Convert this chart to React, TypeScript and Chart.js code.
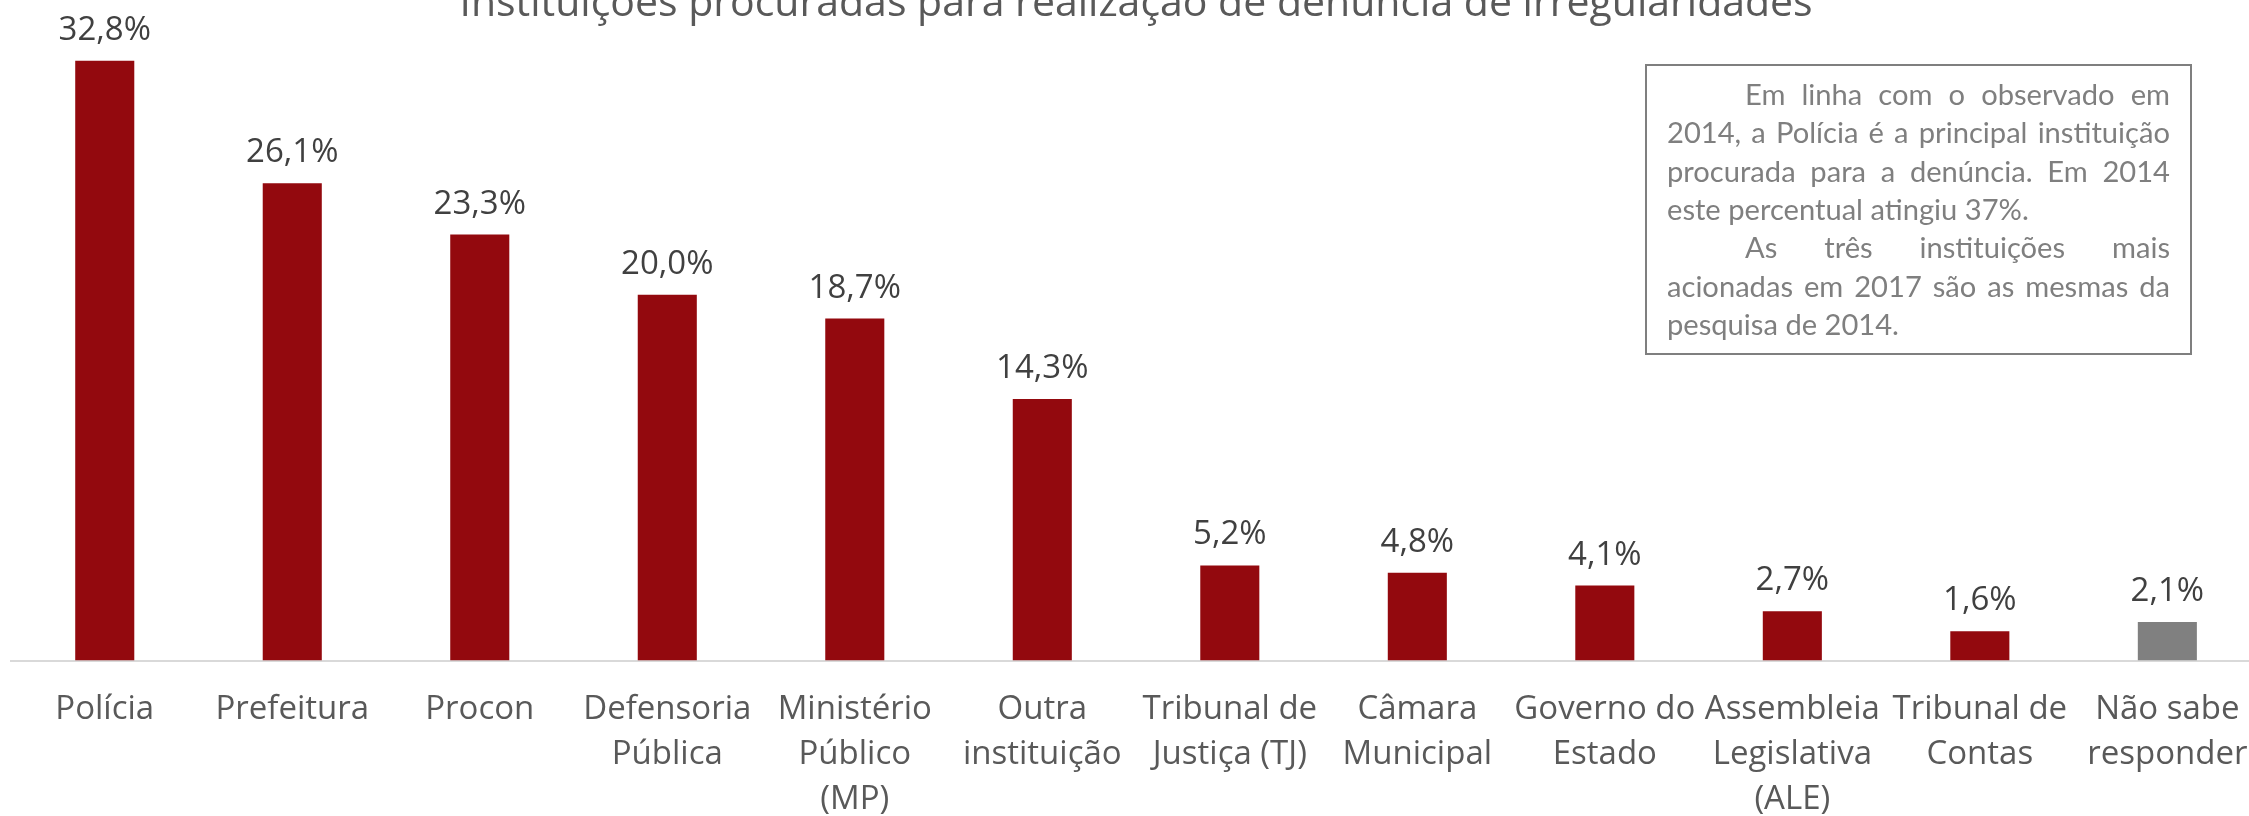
import React, { useEffect, useRef } from 'react';
import { Chart, registerables } from 'chart.js';

Chart.register(...registerables);

const categories: string[][] = [
  ['Polícia'],
  ['Prefeitura'],
  ['Procon'],
  ['Defensoria', 'Pública'],
  ['Ministério', 'Público', '(MP)'],
  ['Outra', 'instituição'],
  ['Tribunal de', 'Justiça (TJ)'],
  ['Câmara', 'Municipal'],
  ['Governo do', 'Estado'],
  ['Assembleia', 'Legislativa', '(ALE)'],
  ['Tribunal de', 'Contas'],
  ['Não sabe', 'responder'],
];

const values: number[] = [32.8, 26.1, 23.3, 20.0, 18.7, 14.3, 5.2, 4.8, 4.1, 2.7, 1.6, 2.1];

const RED = '#93090e';
const GRAY = '#808080';
const barColors: string[] = [RED, RED, RED, RED, RED, RED, RED, RED, RED, RED, RED, GRAY];

const titleText = 'Instituições procuradas para realização de denúncia de irregularidades';

type NoteLine = { text: string; indent?: boolean; justify: boolean };
const noteLines: NoteLine[] = [
  { text: 'Em linha com o observado em', indent: true, justify: true },
  { text: '2014, a Polícia é a principal instituição', justify: true },
  { text: 'procurada para a denúncia. Em 2014', justify: true },
  { text: 'este percentual atingiu 37%.', justify: false },
  { text: 'As três instituições mais', indent: true, justify: true },
  { text: 'acionadas em 2017 são as mesmas da', justify: true },
  { text: 'pesquisa de 2014.', justify: false },
];

const FONT = "'Open Sans', sans-serif";
const CANVAS_W = 2274;
const CANVAS_H = 858;

const fmt = (v: number) => v.toFixed(1).replace('.', ',') + '%';

const valueLabelsPlugin = {
  id: 'valueLabels',
  afterDatasetsDraw(chart: any) {
    const ctx = chart.ctx;
    const meta = chart.getDatasetMeta(0);
    ctx.save();
    ctx.font = `33px ${FONT}`;
    ctx.fillStyle = '#404040';
    ctx.textAlign = 'center';
    ctx.textBaseline = 'alphabetic';
    meta.data.forEach((bar: any, i: number) => {
      ctx.fillText(fmt(values[i]), bar.x, bar.y - 21);
    });
    ctx.restore();
  },
};

const titlePlugin = {
  id: 'cutTitle',
  afterDraw(chart: any) {
    const ctx = chart.ctx;
    const { left, right } = chart.chartArea;
    ctx.save();
    ctx.font = `41px ${FONT}`;
    ctx.fillStyle = '#595959';
    ctx.textAlign = 'center';
    ctx.textBaseline = 'alphabetic';
    ctx.fillText(titleText, (left + right) / 2, 16);
    ctx.restore();
  },
};

const notePlugin = {
  id: 'noteBox',
  afterDraw(chart: any) {
    const ctx = chart.ctx;
    const bx = 1646, by = 65, bw = 545, bh = 289;
    const textLeft = 1667, textRight = 2170, indent = 78;
    ctx.save();
    ctx.fillStyle = '#ffffff';
    ctx.fillRect(bx, by, bw, bh);
    ctx.strokeStyle = '#7f7f7f';
    ctx.lineWidth = 2;
    ctx.strokeRect(bx, by, bw, bh);

    ctx.font = `100px Lato, sans-serif`;
    const ref = ctx.measureText(noteLines[3].text).width;
    const size = Math.min(32, (100 * 362) / ref);
    ctx.font = `${size}px Lato, sans-serif`;
    ctx.fillStyle = '#7f7f7f';
    ctx.textBaseline = 'alphabetic';
    ctx.textAlign = 'left';
    noteLines.forEach((ln, i) => {
      const y = 105 + i * 38.3;
      const x0 = textLeft + (ln.indent ? indent : 0);
      if (!ln.justify) {
        ctx.fillText(ln.text, x0, y);
        return;
      }
      const words = ln.text.split(' ');
      const widths = words.map((w) => ctx.measureText(w).width);
      const sum = widths.reduce((a, b) => a + b, 0);
      const gap = words.length > 1 ? (textRight - x0 - sum) / (words.length - 1) : 0;
      let x = x0;
      words.forEach((w, k) => {
        ctx.fillText(w, x, y);
        x += widths[k] + gap;
      });
    });
    ctx.restore();
  },
};

export default function App() {
  const ref = useRef<HTMLCanvasElement>(null);

  useEffect(() => {
    const canvas = ref.current;
    if (!canvas) return;
    const chart = new Chart(canvas, {
      type: 'bar',
      data: {
        labels: categories,
        datasets: [
          {
            data: values,
            backgroundColor: barColors,
            borderWidth: 0,
            categoryPercentage: 1,
            barPercentage: 0.315,
          },
        ],
      },
      options: {
        responsive: false,
        animation: false,
        devicePixelRatio: 1,
        layout: { padding: { top: 20.6, left: 11, right: 1, bottom: 9.5 } },
        plugins: {
          legend: { display: false },
          tooltip: { enabled: false },
          title: { display: false },
        },
        scales: {
          x: {
            grid: { display: false, drawTicks: false },
            border: { display: true, color: '#d9d9d9', width: 2 },
            ticks: {
              color: '#595959',
              font: { family: FONT, size: 33, lineHeight: 1.3636 },
              padding: 26.5,
              autoSkip: false,
              maxRotation: 0,
              minRotation: 0,
            },
          },
          y: { display: false, min: 0, max: 35 },
        },
      },
      plugins: [valueLabelsPlugin, titlePlugin, notePlugin],
    });
    return () => chart.destroy();
  }, []);

  return (
    <div
      style={{
        position: 'fixed',
        left: 0,
        top: 0,
        width: '100vw',
        height: '100vh',
        overflow: 'hidden',
        background: '#ffffff',
      }}
    >
      <div style={{ position: 'absolute', left: 0, top: 0, width: CANVAS_W, height: CANVAS_H }}>
        <canvas
          ref={ref}
          width={CANVAS_W}
          height={CANVAS_H}
          style={{ display: 'block', width: CANVAS_W, height: CANVAS_H }}
        />
      </div>
    </div>
  );
}
